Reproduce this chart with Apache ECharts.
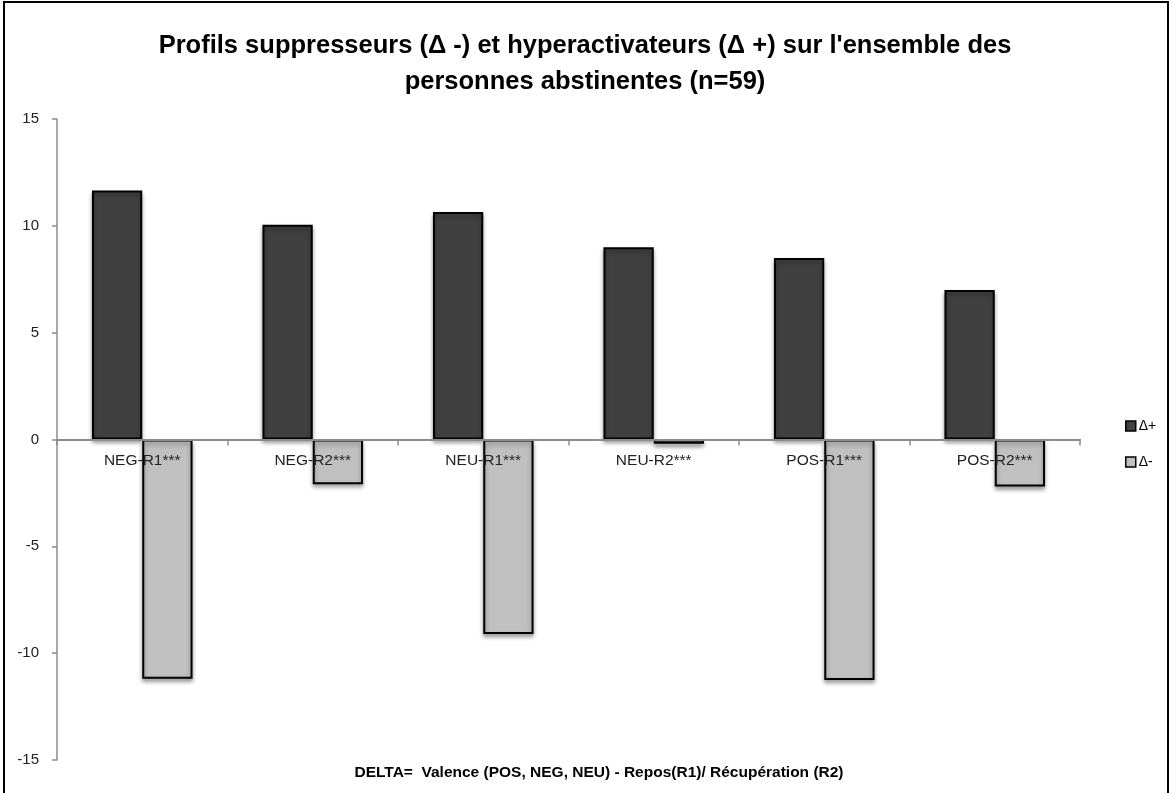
<!DOCTYPE html>
<html>
<head>
<meta charset="utf-8">
<script src="https://cdn.jsdelivr.net/npm/echarts@6/dist/echarts.min.js"></script>
<style>
  html, body { margin: 0; padding: 0; background: #fff; }
  #main { width: 1174px; height: 793px; }
</style>
</head>
<body>
<div id="main"></div>
<script>
// données
var categories = ['NEG-R1***', 'NEG-R2***', 'NEU-R1***', 'NEU-R2***', 'POS-R1***', 'POS-R2***'];
var deltaPlus = [11.65, 10.05, 10.65, 9.0, 8.5, 7.0];
var deltaMinus = [-11.2, -2.1, -9.1, -0.2, -11.25, -2.2];
var yTicks = { min: -15, max: 15, interval: 5 };

var font = "'Liberation Sans', sans-serif";

var chartDom = document.getElementById('main');
var myChart = echarts.init(chartDom);

var gridTop = 119, gridBottom = 33;
// décalage de l'axe des catégories jusqu'à la ligne du zéro
var plotH = 793 - gridTop - gridBottom;
var zeroOffset = -plotH * (0 - yTicks.min) / (yTicks.max - yTicks.min);

var barStyle = function (color) {
  return {
    color: color,
    borderColor: '#000',
    borderWidth: 2,
    shadowColor: 'rgba(0,0,0,0.35)',
    shadowBlur: 4,
    shadowOffsetY: 3
  };
};

var option = {
  backgroundColor: '#fff',
  animation: false,
  title: {
    text: "Profils suppresseurs (\u0394 -) et hyperactivateurs (\u0394 +) sur l'ensemble des\npersonnes abstinentes (n=59)",
    left: 580,
    textAlign: 'center',
    top: 23,
    textStyle: {
      fontFamily: font,
      fontWeight: 'bold',
      fontSize: 25.5,
      lineHeight: 36,
      color: '#000'
    }
  },
  legend: {
    orient: 'vertical',
    left: 1120,
    top: 414,
    itemGap: 22,
    itemWidth: 10,
    itemHeight: 10,
    icon: 'rect',
    textStyle: { fontFamily: font, fontSize: 14, color: '#000', padding: [0, 0, 0, -2] },
    data: [
      { name: '\u0394+', itemStyle: { color: '#404040', borderColor: '#000', borderWidth: 1.5 } },
      { name: '\u0394-', itemStyle: { color: '#c0c0c0', borderColor: '#000', borderWidth: 1.5 } }
    ]
  },
  grid: {
    left: 57,
    right: 94,
    top: gridTop,
    bottom: gridBottom
  },
  xAxis: {
    type: 'category',
    data: categories,
    z: 5,
    offset: zeroOffset,
    axisLine: { onZero: false, lineStyle: { color: '#8c8c8c', width: 2 } },
    axisTick: { show: true, length: 6, lineStyle: { color: '#8c8c8c', width: 1.5 } },
    axisLabel: {
      margin: 13,
      fontFamily: font,
      fontSize: 15.5,
      color: '#222'
    },
    splitLine: { show: false }
  },
  yAxis: {
    type: 'value',
    min: yTicks.min,
    max: yTicks.max,
    interval: yTicks.interval,
    axisLine: { show: true, lineStyle: { color: '#8c8c8c', width: 1.5 } },
    axisTick: { show: true, length: 5, lineStyle: { color: '#8c8c8c', width: 1.5 } },
    axisLabel: {
      margin: 18,
      fontFamily: font,
      fontSize: 15,
      color: '#222'
    },
    splitLine: { show: false }
  },
  series: [
    {
      name: '\u0394+',
      type: 'bar',
      data: deltaPlus,
      barGap: '0%',
      barCategoryGap: '41%',
      itemStyle: barStyle('#404040')
    },
    {
      name: '\u0394-',
      type: 'bar',
      data: deltaMinus,
      itemStyle: barStyle('#c0c0c0')
    }
  ],
  graphic: [
    {
      type: 'rect',
      shape: { x: 4, y: 2, width: 1164, height: 800 },
      style: { fill: 'none', stroke: '#000', lineWidth: 2 },
      silent: true
    },
    {
      type: 'text',
      x: 599,
      y: 773,
      style: {
        text: 'DELTA=  Valence (POS, NEG, NEU) - Repos(R1)/ R\u00e9cup\u00e9ration (R2)',
        fontFamily: font,
        fontWeight: 'bold',
        fontSize: 15.5,
        fill: '#000',
        align: 'center',
        verticalAlign: 'middle'
      }
    }
  ]
};

myChart.setOption(option);
</script>
</body>
</html>
